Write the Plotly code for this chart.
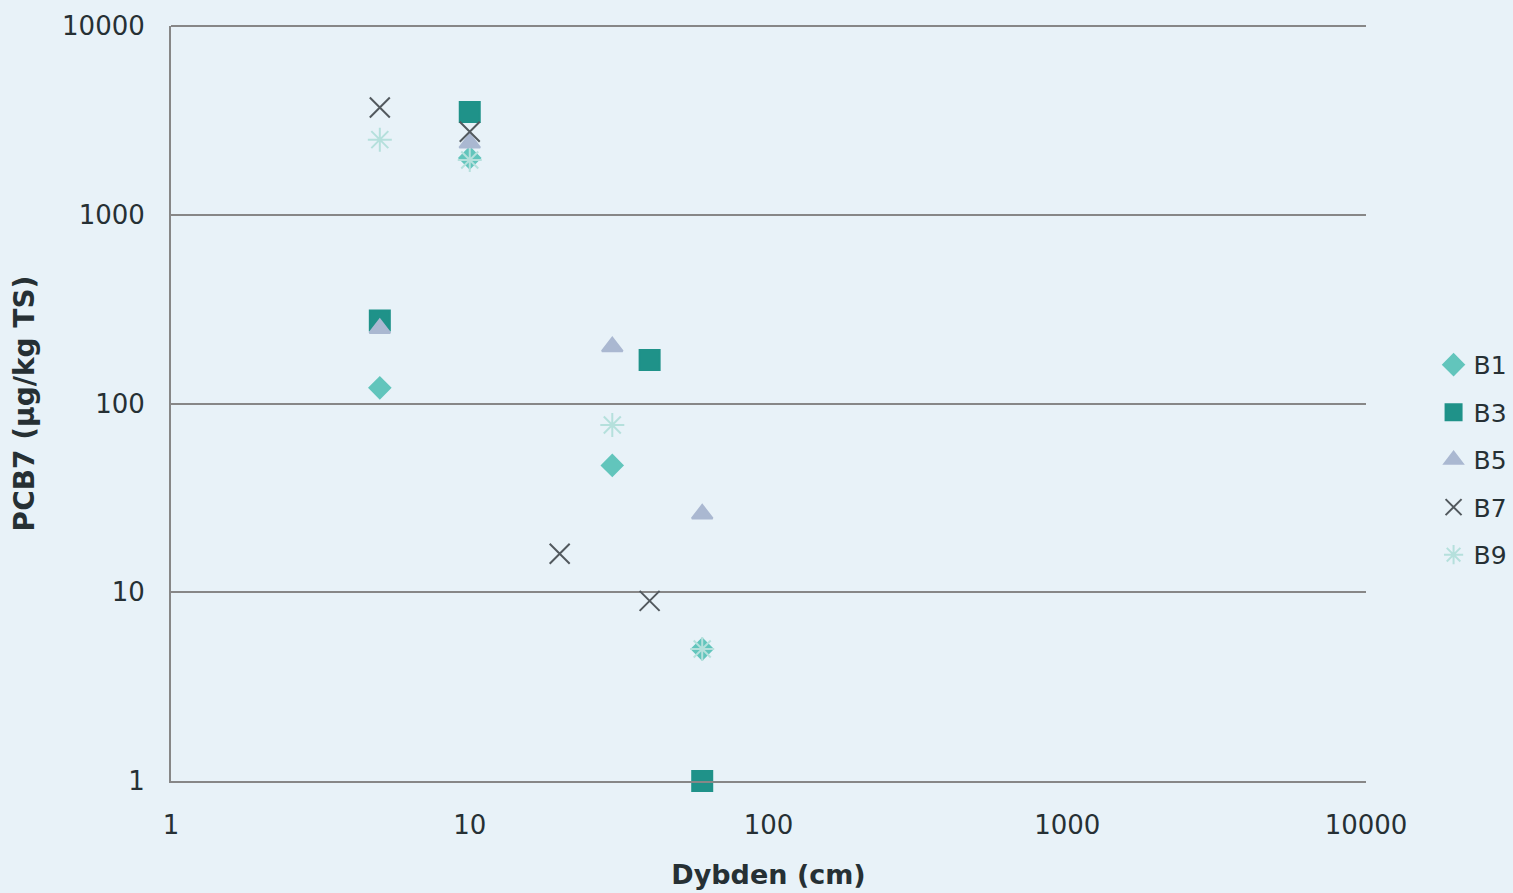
import plotly.graph_objects as go

series_names = ["B1", "B3", "B5", "B7", "B9"]
b1_x = [5, 10, 30, 60]
b1_y = [121, 2000, 47, 5]
b3_x = [5, 10, 40, 60]
b3_y = [275, 3500, 170, 1]
b5_x = [5, 10, 30, 60]
b5_y = [250, 2400, 200, 26]
b7_x = [5, 10, 20, 40]
b7_y = [3700, 2750, 16, 9]
b9_x = [5, 10, 30, 60]
b9_y = [2500, 1950, 77, 5]

tick_vals = [1, 10, 100, 1000, 10000]
tick_text = ["1", "10", "100", "1000", "10000"]

colors = ["#62c5bc", "#1f9289", "#aab8d1", "#52595e", "#b5e0dc"]
symbols = ["diamond", "square", "triangle-up", "x-thin-open", "asterisk-open"]
sizes = [16, 20, 18, 20, 20]

xs = [b1_x, b3_x, b5_x, b7_x, b9_x]
ys = [b1_y, b3_y, b5_y, b7_y, b9_y]

fig = go.Figure()
for name, x, y, c, s, sz in zip(series_names, xs, ys, colors, symbols, sizes):
    fig.add_trace(go.Scatter(
        x=x, y=y, mode="markers", name=name, legendgroup=name,
        cliponaxis=False,
        marker=dict(color=c, symbol=s, size=sz,
                    line=dict(color=c, width=2)),
    ))

font_fam = "DejaVu Sans, Verdana, sans-serif"
fig.update_layout(
    width=1513, height=893,
    margin=dict(l=171, r=147, t=26, b=112, autoexpand=False),
    paper_bgcolor="#e8f2f8",
    plot_bgcolor="#e8f2f8",
    font=dict(family=font_fam, size=26, color="#263034"),
    showlegend=True,
    legend=dict(xref="container", yref="container",
                x=0.9475, y=0.485, xanchor="left", yanchor="middle",
                font=dict(size=25, color="#263034"),
                bgcolor="rgba(0,0,0,0)", itemsizing="trace",
                tracegroupgap=12, itemwidth=30),
    xaxis=dict(
        type="log", range=[0, 4], automargin=False,
        tickvals=tick_vals, ticktext=tick_text,
        showgrid=False, zeroline=False,
        showline=True, linecolor="#878787", linewidth=2,
        ticks="", tickfont=dict(size=26), ticklabelstandoff=20,
        title=dict(text="<b>Dybden (cm)</b>", font=dict(size=27), standoff=26),
    ),
    yaxis=dict(
        type="log", range=[0, 4], automargin=False,
        tickvals=tick_vals, ticktext=tick_text,
        showgrid=True, gridcolor="#878787", gridwidth=2,
        zeroline=False,
        showline=True, linecolor="#878787", linewidth=2,
        ticks="", tickfont=dict(size=26), ticklabelstandoff=19,
        title=dict(text="<b>PCB7 (µg/kg TS)</b>", font=dict(size=28), standoff=19),
    ),
    shapes=[dict(type="line", xref="paper", yref="paper", x0=0, x1=1, y0=1, y1=1,
                 line=dict(color="#878787", width=2), layer="below")],
)

fig.write_html("out.html", config={"displayModeBar": False},
               post_script="document.body.style.margin='0';document.body.style.background='#e8f2f8';")
